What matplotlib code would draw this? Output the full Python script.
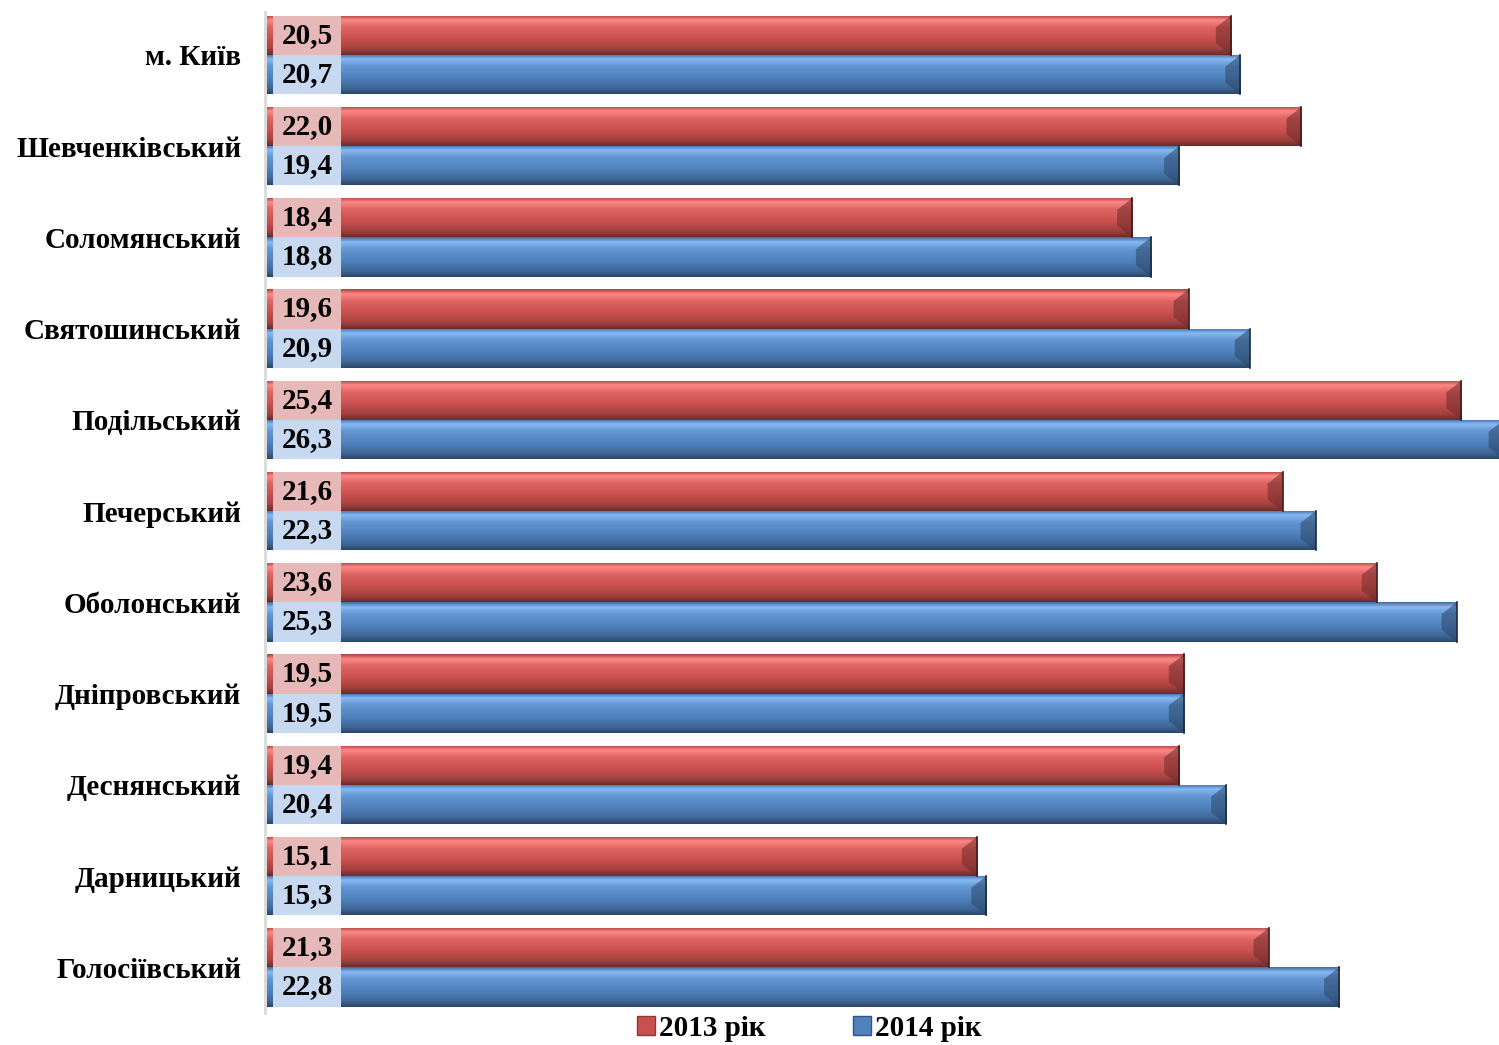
import matplotlib.pyplot as plt
import numpy as np
from matplotlib.patches import Rectangle, Polygon
from matplotlib.colors import to_rgb

plt.rcParams['font.family'] = ['Liberation Serif', 'DejaVu Serif']
plt.rcParams['font.weight'] = 'bold'

districts = ["м. Київ", "Шевченківський", "Соломянський", "Святошинський", "Подільський",
             "Печерський", "Оболонський", "Дніпровський", "Деснянський", "Дарницький",
             "Голосіївський"]
values_2013 = [20.5, 22.0, 18.4, 19.6, 25.4, 21.6, 23.6, 19.5, 19.4, 15.1, 21.3]
values_2014 = [20.7, 19.4, 18.8, 20.9, 26.3, 22.3, 25.3, 19.5, 20.4, 15.3, 22.8]
series_labels = ["2013 рік", "2014 рік"]

RED = "#C9504E"
BLUE = "#4F81BD"
RED_BOX = "#E6B9B8"
BLUE_BOX = "#C6D9F1"


def gradient_colors(base):
    b = np.array(to_rgb(base))
    light = np.clip(b + 0.22, 0, 1)
    dark = b * 0.55
    stops = [(0.0, b * 0.85), (0.12, light), (0.3, np.clip(b + 0.08, 0, 1)),
             (0.6, b), (0.85, b * 0.8), (1.0, dark)]
    t = np.linspace(0, 1, 64)
    cols = np.zeros((64, 1, 3))
    for c in range(3):
        cols[:, 0, c] = np.interp(t, [s[0] for s in stops], [s[1][c] for s in stops])
    return cols, dark


def shade_bars(ax, bars, base):
    grad, dark = gradient_colors(base)
    for p in bars:
        x0, y0 = p.get_x(), p.get_y()
        w, h = p.get_width(), p.get_height()
        im = ax.imshow(grad, extent=(x0, x0 + w, y0 + h, y0), origin="upper",
                       aspect="auto", zorder=2, interpolation="bilinear")
        im.set_clip_path(p)
        d = 0.32
        ax.add_patch(Polygon([(x0 + w - d, y0 + h * 0.3), (x0 + w, y0), (x0 + w, y0 + h),
                              (x0 + w - d, y0 + h * 0.7)], closed=True,
                             facecolor=dark, alpha=0.55, lw=0, zorder=3))
        ax.plot([x0 + w, x0 + w], [y0, y0 + h], color=dark * 0.6, lw=1.2, zorder=3)


fig = plt.figure(figsize=(14.99, 10.45), dpi=100)
ax = fig.add_axes([0.178, 0.0306, 0.822, 0.9579])

for s in ["top", "right", "bottom"]:
    ax.spines[s].set_visible(False)
ax.spines["left"].set_color("#D9D9D9")
ax.spines["left"].set_linewidth(2)
ax.spines["left"].set_position(("data", -0.04))

y = np.arange(len(districts))
h = 0.43
bars13 = ax.barh(y - h / 2, values_2013, height=h, color=RED, zorder=1, label=series_labels[0])
bars14 = ax.barh(y + h / 2, values_2014, height=h, color=BLUE, zorder=1, label=series_labels[1])
shade_bars(ax, bars13, RED)
shade_bars(ax, bars14, BLUE)

for bars, vals, box in [(bars13, values_2013, RED_BOX), (bars14, values_2014, BLUE_BOX)]:
    for p, v in zip(bars, vals):
        ax.add_patch(Rectangle((0.13, p.get_y()), 1.45, p.get_height(),
                               facecolor=box, edgecolor="none", zorder=4))
        ax.text(0.855, p.get_y() + p.get_height() / 2, f"{v:.1f}".replace(".", ","),
                ha="center", va="center", fontsize=21, fontweight="bold", zorder=5)

ax.set_xlim(0, 26.2)
ax.set_ylim(10.5, -0.47)
ax.set_yticks(y)
ax.set_yticklabels(districts, fontsize=21, fontweight="bold")
ax.tick_params(axis="y", length=0, pad=17)
ax.set_xticks([])

handles = [Rectangle((0, 0), 1, 1, facecolor=RED, edgecolor="#8B3A38"),
           Rectangle((0, 0), 1, 1, facecolor=BLUE, edgecolor="#2F5585")]
fig.legend(handles, series_labels, loc="lower center", bbox_to_anchor=(0.54, -0.022), ncol=2,
           frameon=False, handlelength=0.6, handleheight=0.6,
           handletextpad=0.15, columnspacing=3.0, prop={"weight": "bold", "size": 21})

plt.savefig("out.png", dpi=100)
